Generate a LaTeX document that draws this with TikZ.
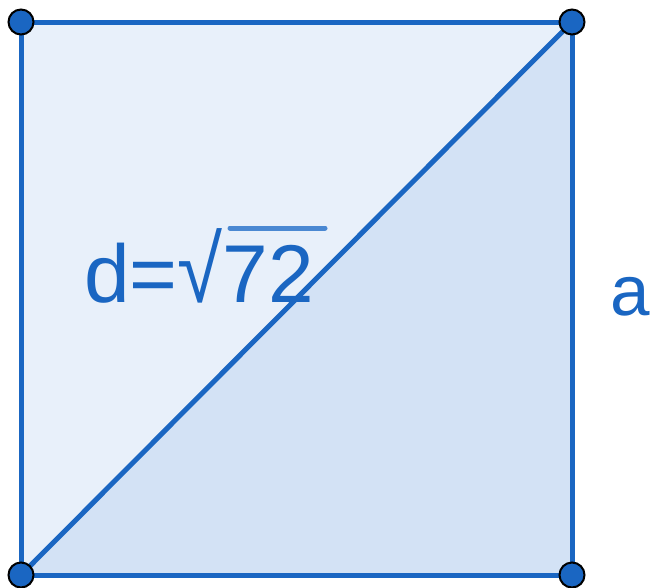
\documentclass[tikz,border=0pt]{standalone}
\usepackage{fontspec}
\setmainfont{Liberation Sans}
\definecolor{edge}{HTML}{1A66C2}
\definecolor{lightfill}{HTML}{E8F0FA}
\definecolor{darkfill}{HTML}{D3E2F5}
\definecolor{barcol}{HTML}{4A88D2}
\tikzset{
  side/.style={draw=edge, line width=5pt, line cap=round, line join=round},
  vertex/.style={circle, fill=edge, draw=black, line width=2pt, minimum size=25pt, inner sep=0pt},
  lbl/.style={text=edge, inner sep=0pt, anchor=base west}
}
\begin{document}
\begin{tikzpicture}[x=1pt,y=-1pt]
\useasboundingbox (0,0) rectangle (650,587);
\coordinate (A) at (21,22);
\coordinate (B) at (572,22);
\coordinate (C) at (572,575);
\coordinate (D) at (21,575);
\fill[lightfill] (A) -- (B) -- (D) -- cycle;
\fill[darkfill] (B) -- (C) -- (D) -- cycle;
\draw[side] (A) -- (B) -- (C) -- (D) -- cycle;
\draw[side] (D) -- (B);
\node[lbl] (dlab) at (84,302) {\fontsize{82}{90}\selectfont d=\scalebox{1}[1.14]{√}72};
\draw[barcol, line width=5pt, line cap=round] (230,228) -- (325,228);
\node[lbl] (alab) at (610,315) {\fontsize{71}{80}\selectfont a};
\node[vertex] (vA) at (A) {};
\node[vertex] (vB) at (B) {};
\node[vertex] (vC) at (C) {};
\node[vertex] (vD) at (D) {};
\end{tikzpicture}
\end{document}
